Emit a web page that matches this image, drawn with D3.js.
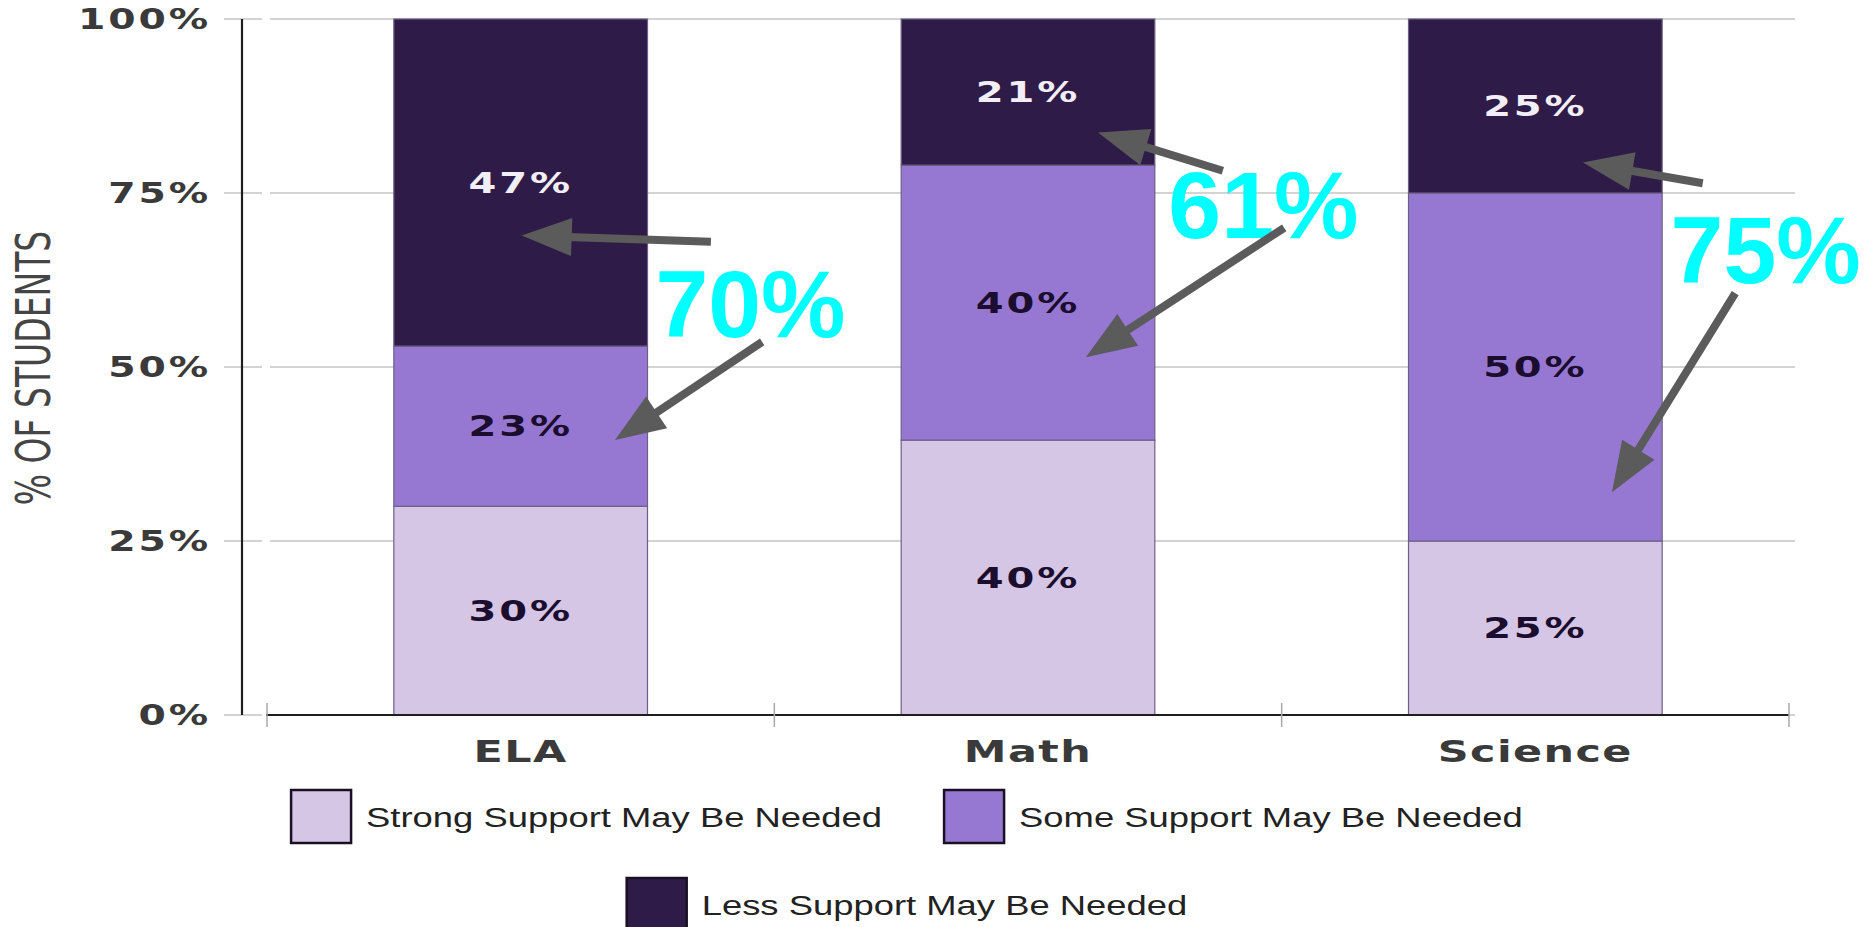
<!DOCTYPE html>
<html>
<head>
<meta charset="utf-8">
<script src="https://cdn.jsdelivr.net/npm/d3@7"></script>
<style>
  body { margin: 0; background: #fff; }
  svg { display: block; }
</style>
</head>
<body>
<script>
/* global d3 */

// values
const subjects = ['ELA', 'Math', 'Science'];
const strongSupport = [30, 39.5, 25];
const someSupport = [23, 39.5, 50];
const lessSupport = [47, 21, 25];
const seriesKeys = ['strong', 'some', 'less'];
const seriesNames = [
  'Strong Support May Be Needed',
  'Some Support May Be Needed',
  'Less Support May Be Needed',
];
const yTicks = [0, 25, 50, 75, 100];

const colors = { strong: '#d6c6e6', some: '#9678d2', less: '#2e1b47' };

// callout layout: [fraction of band, value on y]
const callouts = [
  { label: [0.953, 54.3], arrows: [[[0.875, 68.0], [0.502, 68.9]], [[0.976, 53.6], [0.686, 39.5]]] },
  { label: [0.964, 68.5], arrows: [[[0.884, 78.2], [0.638, 83.7]], [[1.005, 70.0], [0.614, 51.4]]] },
  { label: [0.954, 62.0], arrows: [[[0.830, 76.4], [0.594, 79.4]], [[0.894, 60.6], [0.651, 32.0]]] },
];

const rows = subjects.map((s, i) => ({
  subject: s, strong: strongSupport[i], some: someSupport[i], less: lessSupport[i],
}));

const stretch = 1.43; // the source picture is stretched sideways

const svg = d3.select('body')
  .append('svg')
  .attr('width', 1864)
  .attr('height', 927);

const x = d3.scaleBand()
  .domain(subjects)
  .range([267, 1789]);

const y = d3.scaleLinear()
  .domain([0, 100])
  .range([715, 19]);

// gridlines
const grid = svg.append('g');
yTicks.forEach((t) => {
  grid.append('line')
    .attr('x1', 224).attr('x2', 262)
    .attr('y1', y(t)).attr('y2', y(t))
    .attr('stroke', '#c4c4c4').attr('stroke-width', 1.5);
  grid.append('line')
    .attr('x1', 270).attr('x2', 1795)
    .attr('y1', y(t)).attr('y2', y(t))
    .attr('stroke', '#c4c4c4').attr('stroke-width', 1.5);
});

// y tick labels
svg.append('g')
  .selectAll('text')
  .data(yTicks)
  .enter().append('text')
  .attr('transform', (d) => `translate(211,${y(d) + 10}) scale(${stretch},1)`)
  .attr('text-anchor', 'end')
  .style('font-family', 'DejaVu Sans')
  .style('font-weight', 'bold')
  .style('font-size', '27.5px')
  .style('letter-spacing', '2px')
  .style('fill', '#3a3a3a')
  .text((d) => `${d}%`);

// y title
svg.append('text')
  .attr('transform', `translate(50,368) rotate(-90) scale(1,${stretch})`)
  .attr('text-anchor', 'middle')
  .style('font-family', 'DejaVu Sans')
  .style('font-size', '33px')
  .style('fill', '#454545')
  .text('% OF STUDENTS');

// bars
const series = d3.stack().keys(seriesKeys)(rows);
const barW = x.bandwidth() * 0.5;

const layer = svg.selectAll('.layer')
  .data(series)
  .enter().append('g')
  .attr('class', 'layer');

layer.selectAll('rect')
  .data((d) => d)
  .enter().append('rect')
  .attr('x', (d) => x(d.data.subject) + (x.bandwidth() - barW) / 2)
  .attr('y', (d) => y(d[1]))
  .attr('width', barW)
  .attr('height', (d) => y(d[0]) - y(d[1]))
  .style('fill', function () { return colors[d3.select(this.parentNode).datum().key]; })
  .style('stroke', '#6d5f84')
  .style('stroke-width', 1.2);

layer.selectAll('text')
  .data((s) => s.map((d) => ({ d, key: s.key })))
  .enter().append('text')
  .attr('transform', (o) => {
    const cx = x(o.d.data.subject) + x.bandwidth() / 2;
    const cy = (y(o.d[0]) + y(o.d[1])) / 2 + 10;
    return `translate(${cx},${cy}) scale(${stretch},1)`;
  })
  .attr('text-anchor', 'middle')
  .style('font-family', 'DejaVu Sans')
  .style('font-weight', 'bold')
  .style('font-size', '28px')
  .style('letter-spacing', '2px')
  .style('fill', (o) => (o.key === 'less' ? '#f2eef6' : '#1b0d2e'))
  .text((o) => `${Math.round(o.d.data[o.key])}%`);

// axes lines
svg.append('line')
  .attr('x1', 242).attr('x2', 242)
  .attr('y1', y(100)).attr('y2', y(0))
  .attr('stroke', '#1e1e1e').attr('stroke-width', 2.2);

svg.append('line')
  .attr('x1', x.range()[0] - 1).attr('x2', x.range()[1])
  .attr('y1', y(0)).attr('y2', y(0))
  .attr('stroke', '#1e1e1e').attr('stroke-width', 2.2);

const xTicks = subjects.map((s) => x(s)).concat([x.range()[1]]);
svg.append('g')
  .selectAll('line')
  .data(xTicks)
  .enter().append('line')
  .attr('x1', (d) => d).attr('x2', (d) => d)
  .attr('y1', y(0) - 12).attr('y2', y(0) + 12)
  .attr('stroke', '#a8a8a8').attr('stroke-width', 1.5);

svg.append('g')
  .selectAll('text')
  .data(subjects)
  .enter().append('text')
  .attr('transform', (d) => `translate(${x(d) + x.bandwidth() / 2},762) scale(${stretch},1)`)
  .attr('text-anchor', 'middle')
  .style('font-family', 'DejaVu Sans')
  .style('font-weight', 'bold')
  .style('font-size', '30px')
  .style('letter-spacing', '1px')
  .style('fill', '#3a3a3a')
  .text((d) => d);

// legend
const legendStretch = 1.3;
const legendRows = [[0, 1], [2]];
const legendCenter = 907;
const boxW = 60;
const boxH = 53;
const textGap = 15;
const itemGap = 62;

legendRows.forEach((idxs, r) => {
  const top = 790 + r * 88;
  const g = svg.append('g');
  const items = idxs.map((i) => {
    const t = g.append('text')
      .style('font-family', 'Liberation Sans, Arial, sans-serif')
      .style('font-size', '28px')
      .style('fill', '#222')
      .text(seriesNames[i]);
    return { i, t, w: t.node().getComputedTextLength() * legendStretch };
  });
  const total = d3.sum(items, (it) => boxW + textGap + it.w) + itemGap * (items.length - 1);
  let cx = legendCenter - total / 2;
  items.forEach((it) => {
    g.append('rect')
      .attr('x', cx).attr('y', top)
      .attr('width', boxW).attr('height', boxH)
      .style('fill', colors[seriesKeys[it.i]])
      .style('stroke', '#1a1025')
      .style('stroke-width', 2.5);
    it.t.attr('transform', `translate(${cx + boxW + textGap},${top + 37}) scale(${legendStretch},1)`);
    cx += boxW + textGap + it.w + itemGap;
  });
});

// callouts
const px = (s, f) => x(s) + f * x.bandwidth();
const ann = svg.append('g');

function drawArrow(x1, y1, x2, y2) {
  const ang = Math.atan2(y2 - y1, x2 - x1);
  const hl = 50;
  const hw = 19;
  const bx = x2 - hl * Math.cos(ang);
  const by = y2 - hl * Math.sin(ang);
  ann.append('line')
    .attr('x1', x1).attr('y1', y1)
    .attr('x2', bx + 4 * Math.cos(ang)).attr('y2', by + 4 * Math.sin(ang))
    .attr('stroke', '#5b5b5b').attr('stroke-width', 8);
  const nx = -Math.sin(ang) * hw;
  const ny = Math.cos(ang) * hw;
  ann.append('path')
    .attr('d', `M${x2},${y2}L${bx + nx},${by + ny}L${bx - nx},${by - ny}Z`)
    .attr('fill', '#5b5b5b');
}

callouts.forEach((c, i) => {
  const s = subjects[i];
  ann.append('text')
    .attr('x', px(s, c.label[0]))
    .attr('y', y(c.label[1]))
    .attr('text-anchor', 'middle')
    .style('font-family', 'Liberation Sans, Arial, sans-serif')
    .style('font-weight', 'bold')
    .style('font-size', '95px')
    .style('fill', '#00ffff')
    .text(`${Math.round(someSupport[i] + lessSupport[i])}%`);
  c.arrows.forEach(([from, to]) => {
    drawArrow(px(s, from[0]), y(from[1]), px(s, to[0]), y(to[1]));
  });
});
</script>
</body>
</html>
